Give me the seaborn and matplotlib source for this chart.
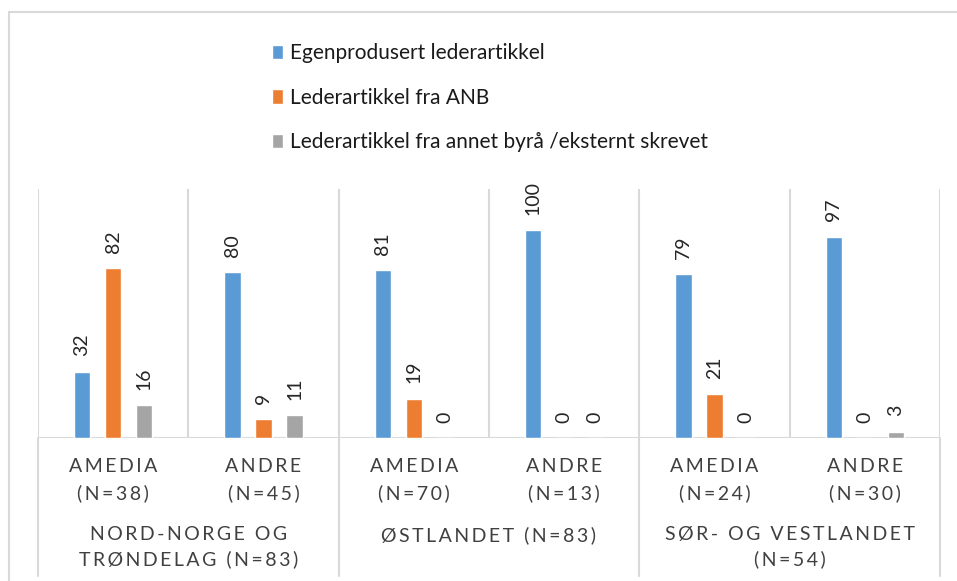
import pandas as pd
import numpy as np
import seaborn as sns
import matplotlib.pyplot as plt
from matplotlib.patches import Rectangle


# Data (per cent)
owners = ['AMEDIA', 'ANDRE', 'AMEDIA', 'ANDRE', 'AMEDIA', 'ANDRE']
owner_n = ['(N=38)', '(N=45)', '(N=70)', '(N=13)', '(N=24)', '(N=30)']
regions = ['NORD-NORGE OG\nTRØNDELAG (N=83)', 'ØSTLANDET (N=83)', 'SØR- OG VESTLANDET\n(N=54)']
series = ['Egenprodusert lederartikkel', 'Lederartikkel fra ANB',
          'Lederartikkel fra annet byrå /eksternt skrevet']
egen = [32, 80, 81, 100, 79, 97]
anb = [82, 9, 19, 0, 21, 0]
annet = [16, 11, 0, 0, 0, 3]

colors = ['#5B9BD5', '#ED7D31', '#A5A5A5']
grid_c = '#D9D9D9'

sns.set_theme(style='white')
plt.rcParams['font.family'] = ['Lato', 'DejaVu Sans']

# long table
cats = [f'c{i}' for i in range(len(owners))]
rows = []
for name, vals in zip(series, [egen, anb, annet]):
    for c, v in zip(cats, vals):
        rows.append({'kat': c, 'andel': v, 'type': name})
df = pd.DataFrame(rows)

W, H = 957, 581
fig = plt.figure(figsize=(W / 100, H / 100), dpi=100)
left, right, base, top = 38, 940, 438, 189
ax = fig.add_axes([left / W, (H - base) / H, (right - left) / W, (base - top) / H])

sns.barplot(data=df, x='kat', y='andel', hue='type', order=cats, hue_order=series,
            palette=colors, width=0.62, gap=0.48, ax=ax, saturation=1)
ax.set_xlim(-0.5, len(cats) - 0.5)
ax.set_ylim(0, 120)
for s in ax.spines.values():
    s.set_visible(False)
ax.set_xticks([])
ax.set_yticks([])
ax.set_xlabel('')
ax.set_ylabel('')

for cont in ax.containers:
    ax.bar_label(cont, fmt='%d', rotation=90, padding=11, fontsize=14, color='#262626')

# vertical gridlines and baseline
for xv in np.arange(-0.5, len(cats), 1):
    ax.axvline(xv, color=grid_c, lw=1.5, zorder=0)
ax.axhline(0, color=grid_c, lw=1.5, zorder=0)


def ay(py):
    return (base - py) / (base - top)


def spaced(s):
    # Excel draws these labels with extra letter spacing
    return '\n'.join('\u2009'.join(line) for line in s.split('\n'))


tr = ax.get_xaxis_transform()
# group separators below axis
for xv in [-0.5, 1.5, 3.5, 5.5]:
    ax.plot([xv, xv], [0, ay(576)], color=grid_c, lw=1.5, transform=tr, clip_on=False)

for i in range(len(owners)):
    ax.text(i, ay(467), spaced(owners[i]), transform=tr, ha='center', va='center',
            fontsize=14, color='#404040')
    ax.text(i, ay(493), spaced(owner_n[i]), transform=tr, ha='center', va='center',
            fontsize=14, color='#404040')
for j, r in enumerate(regions):
    ax.text(2 * j + 0.5, ay(526), spaced(r), transform=tr, ha='center', va='top',
            fontsize=14, color='#404040', linespacing=1.5)

ax.legend(loc='upper left', bbox_to_anchor=(262 / W, 1 - 33 / H), bbox_transform=fig.transFigure,
          frameon=False, fontsize=15, handlelength=0.5, handleheight=0.7,
          handletextpad=0.35, labelspacing=1.17, borderpad=0, labelcolor='#1a1a1a')

# outer chart frame
fig.add_artist(Rectangle((9 / W, -0.05), 1.2, 1.05 - 12 / H, transform=fig.transFigure,
                         fill=False, edgecolor=grid_c, lw=1.5))

fig.savefig('out.png', dpi=100)
